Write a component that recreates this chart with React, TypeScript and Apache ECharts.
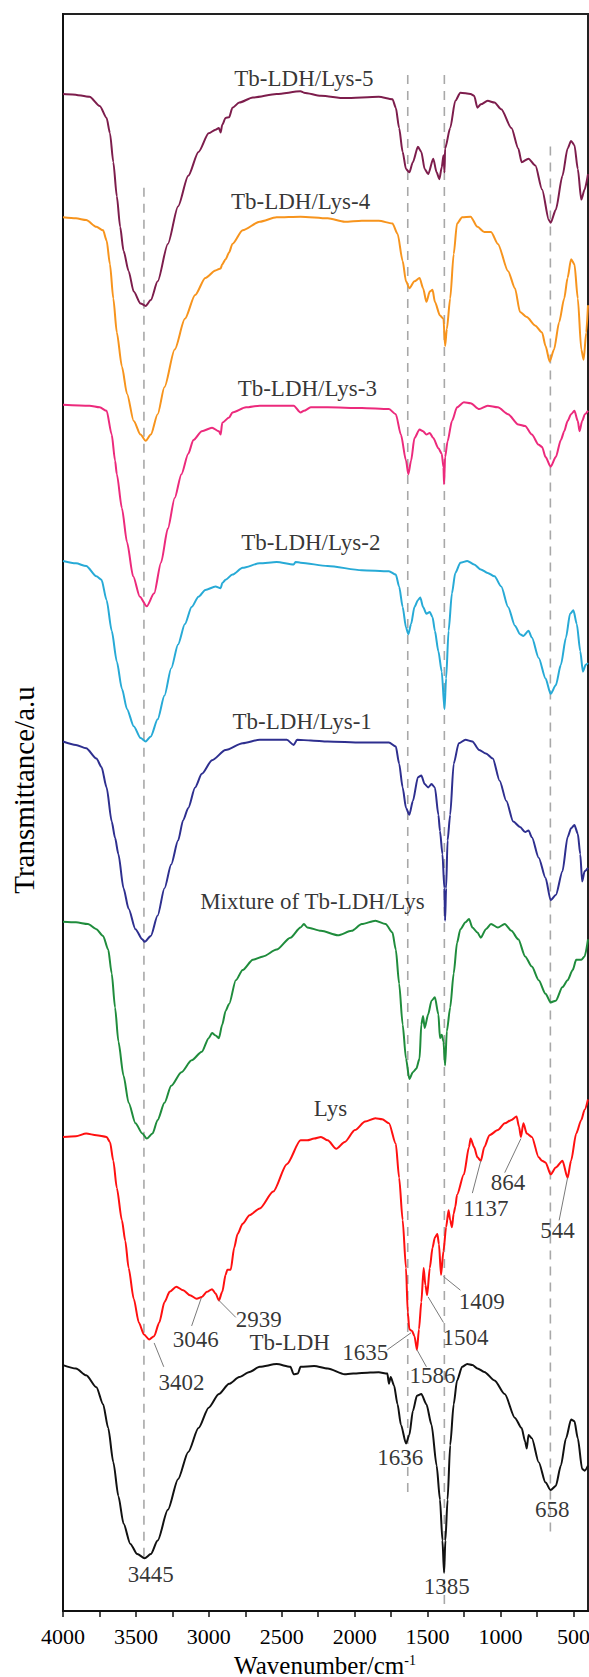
import React, { useEffect, useRef } from "react";
import * as echarts from "echarts";

// x axis (wavenumber, cm-1) ticks
const TICK_VALUES = [4000, 3750, 3500, 3250, 3000, 2750, 2500, 2250, 2000, 1750, 1500, 1250, 1000, 750, 500];
const LABEL_VALUES = [4000, 3500, 3000, 2500, 2000, 1500, 1000, 500];

// spectra: [wavenumber, transmittance (a.u., stacked)]
const lys5 = [[4000,4454],[3935,4453],[3818,4446],[3748,4419],[3701,4384],[3678,4339],[3655,4254],[3631,4154],[3608,4064],[3585,3994],[3550,3934],[3515,3874],[3468,3839],[3433,3832],[3398,3849],[3351,3904],[3281,4014],[3211,4124],[3141,4214],[3071,4284],[3001,4339],[2954,4349],[2931,4354],[2919,4341],[2908,4364],[2885,4384],[2861,4386],[2838,4414],[2791,4429],[2698,4444],[2535,4454],[2371,4462],[2348,4458],[2231,4449],[2068,4442],[1835,4446],[1741,4439],[1718,4414],[1695,4354],[1671,4284],[1648,4234],[1625,4224],[1601,4254],[1566,4299],[1543,4284],[1520,4234],[1496,4219],[1461,4264],[1438,4224],[1419,4204],[1403,4239],[1391,4274],[1384,4224],[1380,4294],[1345,4354],[1310,4434],[1275,4458],[1205,4454],[1181,4449],[1158,4414],[1135,4424],[1088,4434],[1041,4429],[995,4409],[925,4354],[878,4294],[855,4254],[808,4264],[761,4244],[715,4174],[668,4084],[656,4076],[621,4114],[575,4214],[540,4294],[516,4316],[493,4304],[470,4234],[446,4144],[423,4174],[400,4219]];

const lys4 = [[4000,4092],[3911,4089],[3841,4084],[3771,4064],[3725,4054],[3701,4024],[3678,3954],[3655,3854],[3631,3754],[3596,3654],[3561,3574],[3515,3494],[3468,3454],[3433,3436],[3398,3454],[3351,3514],[3304,3594],[3234,3704],[3164,3794],[3094,3864],[3024,3914],[2954,3936],[2919,3942],[2908,3954],[2885,3969],[2861,3989],[2838,4014],[2768,4054],[2651,4079],[2535,4092],[2371,4094],[2185,4089],[2068,4079],[1951,4082],[1835,4082],[1741,4074],[1706,4044],[1671,3964],[1648,3904],[1625,3884],[1590,3904],[1555,3914],[1531,3884],[1508,3844],[1485,3874],[1466,3879],[1450,3844],[1415,3804],[1391,3794],[1380,3714],[1368,3764],[1345,3854],[1321,3984],[1298,4074],[1263,4092],[1205,4094],[1158,4064],[1111,4049],[1065,4049],[1018,4014],[948,3934],[901,3884],[866,3814],[820,3799],[761,3774],[715,3754],[691,3714],[663,3669],[633,3704],[598,3784],[563,3854],[540,3914],[516,3969],[493,3954],[470,3854],[446,3704],[430,3674],[412,3754],[400,3834]];

const lys3 = [[4000,3542],[3818,3539],[3748,3534],[3701,3524],[3666,3454],[3643,3378],[3631,3338],[3596,3238],[3561,3138],[3519,3038],[3473,2978],[3426,2950],[3375,2988],[3328,3078],[3281,3178],[3234,3268],[3188,3338],[3141,3398],[3106,3438],[3048,3464],[2978,3474],[2931,3464],[2919,3454],[2908,3489],[2861,3504],[2838,3519],[2745,3534],[2651,3539],[2418,3539],[2371,3519],[2348,3524],[2301,3534],[2185,3534],[1951,3532],[1765,3529],[1718,3514],[1683,3454],[1648,3378],[1632,3338],[1613,3378],[1590,3444],[1555,3469],[1531,3464],[1508,3454],[1485,3459],[1461,3444],[1426,3414],[1403,3398],[1391,3358],[1387,3308],[1380,3388],[1363,3434],[1333,3494],[1298,3534],[1251,3549],[1205,3546],[1146,3529],[1088,3539],[1018,3534],[948,3514],[878,3484],[831,3479],[785,3454],[738,3424],[715,3418],[691,3388],[656,3360],[621,3388],[586,3438],[563,3464],[540,3494],[516,3514],[493,3524],[470,3494],[458,3464],[440,3494],[421,3514],[400,3524]];

const lys2 = [[4000,3083],[3911,3076],[3841,3068],[3771,3038],[3736,3028],[3701,2968],[3666,2878],[3631,2788],[3596,2708],[3561,2648],[3515,2598],[3468,2563],[3433,2553],[3398,2568],[3351,2618],[3304,2688],[3258,2768],[3211,2838],[3164,2898],[3118,2948],[3071,2978],[3024,2998],[2954,3008],[2919,3003],[2908,3018],[2885,3028],[2838,3043],[2768,3063],[2651,3076],[2535,3080],[2418,3073],[2406,3080],[2371,3078],[2185,3068],[1951,3056],[1765,3053],[1718,3043],[1695,3008],[1671,2948],[1648,2888],[1632,2868],[1613,2898],[1590,2948],[1566,2968],[1550,2976],[1531,2948],[1508,2928],[1485,2933],[1466,2918],[1450,2878],[1426,2818],[1403,2758],[1384,2648],[1373,2738],[1356,2878],[1333,2988],[1310,3048],[1275,3078],[1228,3083],[1181,3073],[1135,3058],[1088,3048],[1041,3038],[995,3008],[948,2948],[901,2893],[866,2868],[843,2863],[808,2878],[785,2858],[738,2798],[691,2738],[656,2693],[621,2718],[586,2778],[551,2858],[523,2928],[500,2938],[477,2898],[453,2818],[435,2758],[416,2778],[400,2783]];

const lys1 = [[4000,2553],[3911,2543],[3841,2533],[3771,2503],[3736,2478],[3701,2418],[3666,2318],[3643,2270],[3620,2222],[3585,2122],[3550,2062],[3503,2002],[3456,1972],[3440,1965],[3398,1982],[3351,2042],[3304,2122],[3258,2192],[3211,2262],[3176,2322],[3141,2358],[3094,2418],[3048,2458],[2978,2498],[2885,2528],[2768,2548],[2651,2558],[2465,2558],[2418,2543],[2395,2558],[2301,2556],[2185,2553],[1951,2550],[1765,2550],[1718,2538],[1695,2488],[1671,2418],[1648,2358],[1625,2338],[1601,2378],[1566,2448],[1543,2453],[1520,2428],[1496,2418],[1473,2428],[1450,2418],[1426,2338],[1415,2290],[1398,2222],[1385,2122],[1380,2027],[1373,2122],[1363,2262],[1345,2338],[1321,2488],[1286,2548],[1240,2558],[1193,2553],[1146,2528],[1100,2518],[1053,2503],[1006,2438],[960,2378],[913,2318],[866,2302],[831,2287],[808,2292],[785,2272],[738,2212],[691,2152],[656,2087],[621,2102],[575,2172],[540,2272],[516,2298],[493,2308],[470,2282],[453,2222],[440,2142],[423,2172],[400,2182]];

const mixture = [[4000,2024],[3911,2022],[3829,2017],[3771,2002],[3725,1982],[3690,1942],[3666,1872],[3643,1772],[3620,1672],[3585,1572],[3550,1492],[3503,1432],[3456,1402],[3426,1387],[3386,1402],[3351,1442],[3304,1492],[3258,1542],[3188,1582],[3118,1617],[3048,1642],[3001,1682],[2978,1697],[2954,1690],[2931,1682],[2908,1722],[2885,1762],[2861,1782],[2815,1852],[2768,1882],[2698,1912],[2628,1922],[2535,1942],[2441,1977],[2371,2007],[2348,2017],[2325,2007],[2231,1997],[2115,1984],[2021,1997],[1951,2017],[1858,2027],[1788,2017],[1741,1992],[1718,1942],[1695,1842],[1671,1722],[1648,1622],[1625,1562],[1601,1582],[1578,1592],[1555,1622],[1543,1722],[1531,1747],[1520,1712],[1496,1752],[1473,1792],[1450,1802],[1426,1752],[1415,1682],[1403,1692],[1391,1672],[1380,1602],[1368,1702],[1345,1772],[1321,1872],[1298,1962],[1275,2002],[1240,2022],[1216,2032],[1193,2007],[1158,1992],[1135,1977],[1100,2002],[1065,2017],[1018,2007],[971,2017],[925,1997],[878,1972],[831,1922],[785,1892],[738,1852],[691,1812],[656,1787],[621,1792],[575,1832],[540,1852],[505,1882],[481,1912],[446,1912],[423,1922],[400,1972]];

const lys = [[4000,1392],[3911,1394],[3841,1402],[3771,1397],[3701,1392],[3678,1377],[3655,1322],[3631,1242],[3596,1147],[3573,1087],[3550,1007],[3515,917],[3480,847],[3445,812],[3409,797],[3375,807],[3340,847],[3304,907],[3269,937],[3223,952],[3176,942],[3129,927],[3083,917],[3048,922],[3013,937],[2978,945],[2954,932],[2931,912],[2908,937],[2885,987],[2873,1002],[2850,1002],[2826,1067],[2803,1107],[2768,1137],[2721,1162],[2651,1182],[2558,1232],[2465,1312],[2371,1382],[2325,1382],[2278,1387],[2231,1392],[2185,1382],[2126,1357],[2068,1377],[1998,1412],[1928,1437],[1858,1447],[1811,1444],[1765,1432],[1718,1372],[1695,1272],[1671,1148],[1648,1007],[1636,877],[1625,827],[1606,822],[1590,807],[1573,767],[1559,827],[1543,907],[1527,1007],[1515,957],[1503,927],[1485,1007],[1466,1067],[1450,1097],[1433,1107],[1422,1077],[1408,987],[1391,1057],[1373,1127],[1356,1177],[1345,1147],[1333,1127],[1321,1167],[1310,1187],[1298,1222],[1251,1282],[1216,1362],[1205,1387],[1181,1362],[1158,1332],[1135,1322],[1111,1362],[1076,1397],[1018,1412],[971,1432],[925,1442],[890,1452],[873,1422],[860,1392],[843,1432],[820,1402],[785,1392],[738,1332],[715,1322],[691,1317],[656,1282],[621,1302],[575,1322],[540,1272],[516,1322],[481,1402],[446,1442],[423,1472],[400,1502]];

const tbLdh = [[4000,722],[3911,712],[3841,692],[3771,657],[3725,607],[3690,537],[3655,437],[3620,337],[3585,257],[3538,197],[3491,167],[3440,155],[3398,167],[3351,207],[3281,297],[3211,387],[3141,467],[3071,537],[3001,597],[2931,637],[2861,667],[2791,687],[2721,702],[2651,717],[2535,725],[2441,717],[2418,695],[2390,697],[2371,717],[2278,719],[2185,712],[2068,695],[1951,699],[1835,701],[1776,697],[1765,667],[1753,687],[1730,662],[1706,607],[1683,547],[1648,492],[1625,517],[1601,587],[1573,632],[1543,637],[1508,607],[1473,547],[1438,427],[1415,327],[1398,207],[1387,112],[1378,207],[1363,327],[1345,487],[1321,607],[1298,677],[1263,717],[1228,725],[1193,722],[1158,712],[1111,702],[1041,677],[971,637],[901,567],[855,537],[831,497],[820,477],[808,517],[785,507],[738,437],[691,377],[656,355],[621,367],[586,427],[551,507],[516,562],[493,557],[470,507],[440,417],[423,412],[400,427]];

const SPECTRA = [
  { name: "Tb-LDH/Lys-5", color: "#7d1d4c", data: lys5 },
  { name: "Tb-LDH/Lys-4", color: "#f7941d", data: lys4 },
  { name: "Tb-LDH/Lys-3", color: "#ec2a7c", data: lys3 },
  { name: "Tb-LDH/Lys-2", color: "#27aad6", data: lys2 },
  { name: "Tb-LDH/Lys-1", color: "#2e2f8f", data: lys1 },
  { name: "Mixture of Tb-LDH/Lys", color: "#1f8c3c", data: mixture },
  { name: "Lys", color: "#ff1010", data: lys },
  { name: "Tb-LDH", color: "#111111", data: tbLdh },
];

// curve names: [wavenumber, value, text]
const curveLabels: [number, number, string][] = [
  [2348, 4499, "Tb-LDH/Lys-5"],
  [2371, 4139, "Tb-LDH/Lys-4"],
  [2325, 3589, "Tb-LDH/Lys-3"],
  [2301, 3138, "Tb-LDH/Lys-2"],
  [2360, 2613, "Tb-LDH/Lys-1"],
  [2290, 2082, "Mixture of Tb-LDH/Lys"],
  [2166, 1474, "Lys"],
  [2446, 787, "Tb-LDH"],
];

// peak annotations: [wavenumber, value, text]
const peakLabels: [number, number, string][] = [
  [3188, 672, "3402"],
  [3090, 797, "3046"],
  [2658, 857, "2939"],
  [1928, 760, "1635"],
  [1466, 690, "1586"],
  [1240, 802, "1504"],
  [1128, 910, "1409"],
  [1100, 1182, "1137"],
  [948, 1257, "864"],
  [610, 1117, "544"],
  [3398, 107, "3445"],
  [1688, 452, "1636"],
  [1368, 72, "1385"],
  [645, 297, "658"],
];

// leader lines: [wn1, v1, wn2, v2]
const leaders: [number, number, number, number][] = [
  [3375, 787, 3309, 717],
  [3052, 919, 3118, 837],
  [2931, 912, 2815, 862],
  [1776, 767, 1613, 817],
  [1573, 767, 1508, 717],
  [1496, 922, 1391, 847],
  [1391, 982, 1275, 942],
  [1135, 1322, 1193, 1227],
  [860, 1387, 971, 1287],
  [540, 1272, 598, 1147],
];

// dashed guide lines: [wavenumber, top value, bottom value]
const guides: [number, number, number][] = [
  [3445, 4179, 150],
  [1636, 4510, 347],
  [1385, 4510, 10],
  [658, 4300, 232],
];

const Y_MAX = 4689;
const SERIF = "'Liberation Serif', 'Times New Roman', serif";

export default function App() {
  const ref = useRef<HTMLDivElement>(null);

  useEffect(() => {
    if (!ref.current) return;
    const chart = echarts.init(ref.current, null, { renderer: "svg", width: 589, height: 1677 });

    const series: any[] = [];

    guides.forEach(([wn, top, bottom], i) => {
      series.push({
        type: "line",
        name: "guide" + i,
        data: [[wn, top], [wn, bottom]],
        symbol: "none",
        silent: true,
        z: 1,
        lineStyle: { color: "#a8a8a8", width: 1.6, type: [9, 7] },
      });
    });

    SPECTRA.forEach((s) => {
      series.push({
        type: "line",
        name: s.name,
        data: s.data,
        symbol: "none",
        showSymbol: false,
        smooth: 0.25,
        smoothMonotone: "x",
        z: 3,
        lineStyle: { color: s.color, width: 2 },
      });
    });

    leaders.forEach(([a, b, c, d], i) => {
      series.push({
        type: "line",
        name: "leader" + i,
        data: [[a, b], [c, d]],
        symbol: "none",
        silent: true,
        z: 4,
        lineStyle: { color: "#7a7a7a", width: 1 },
      });
    });

    const labelSeries = (items: [number, number, string][], size: number) => ({
      type: "scatter",
      data: items.map(([x, y, t]) => ({ value: [x, y], name: t })),
      symbolSize: 1,
      silent: true,
      z: 6,
      itemStyle: { color: "rgba(0,0,0,0)" },
      label: {
        show: true,
        position: "inside",
        formatter: "{b}",
        fontFamily: SERIF,
        fontSize: size,
        color: "#000",
      },
    });
    series.push(labelSeries(curveLabels, 23));
    series.push(labelSeries(peakLabels, 23));

    chart.setOption({
      animation: false,
      backgroundColor: "#ffffff",
      grid: {
        left: 63,
        right: 1,
        top: 14,
        bottom: 66,
        containLabel: false,
        outerBoundsMode: "none",
        show: true,
        borderColor: "#222",
        borderWidth: 2,
      },
      xAxis: {
        type: "value",
        min: 400,
        max: 4000,
        inverse: true,
        axisLine: { show: true, onZero: false, lineStyle: { color: "#111", width: 2 } },
        axisTick: {
          show: true,
          inside: false,
          length: 6,
          customValues: TICK_VALUES,
          lineStyle: { color: "#111", width: 1.5 },
        },
        axisLabel: {
          show: true,
          customValues: LABEL_VALUES,
          formatter: (v: number) => String(v),
          margin: 14,
          fontFamily: SERIF,
          fontSize: 22,
          color: "#000",
        },
        splitLine: { show: false },
      },
      yAxis: {
        type: "value",
        min: 0,
        max: Y_MAX,
        axisLine: { show: true, lineStyle: { color: "#111", width: 2 } },
        axisTick: { show: false },
        axisLabel: { show: false },
        splitLine: { show: false },
      },
      graphic: [
        {
          type: "text",
          x: 325,
          y: 1665,
          style: {
            text: "Wavenumber/cm{sup|-1}",
            fontFamily: SERIF,
            fontSize: 25,
            fill: "#000",
            align: "center",
            verticalAlign: "middle",
            rich: {
              sup: { fontSize: 14, fontFamily: SERIF, padding: [0, 0, 10, 0] },
            },
          },
        },
        {
          type: "text",
          x: 24,
          y: 790,
          rotation: Math.PI / 2,
          style: {
            text: "Transmittance/a.u",
            fontFamily: SERIF,
            fontSize: 29,
            fill: "#000",
            align: "center",
            verticalAlign: "middle",
          },
        },
      ],
      series,
    });

    return () => chart.dispose();
  }, []);

  return (
    <div
      ref={ref}
      style={{ position: "absolute", left: 0, top: 0, width: 589, height: 1677, background: "#fff" }}
    />
  );
}
